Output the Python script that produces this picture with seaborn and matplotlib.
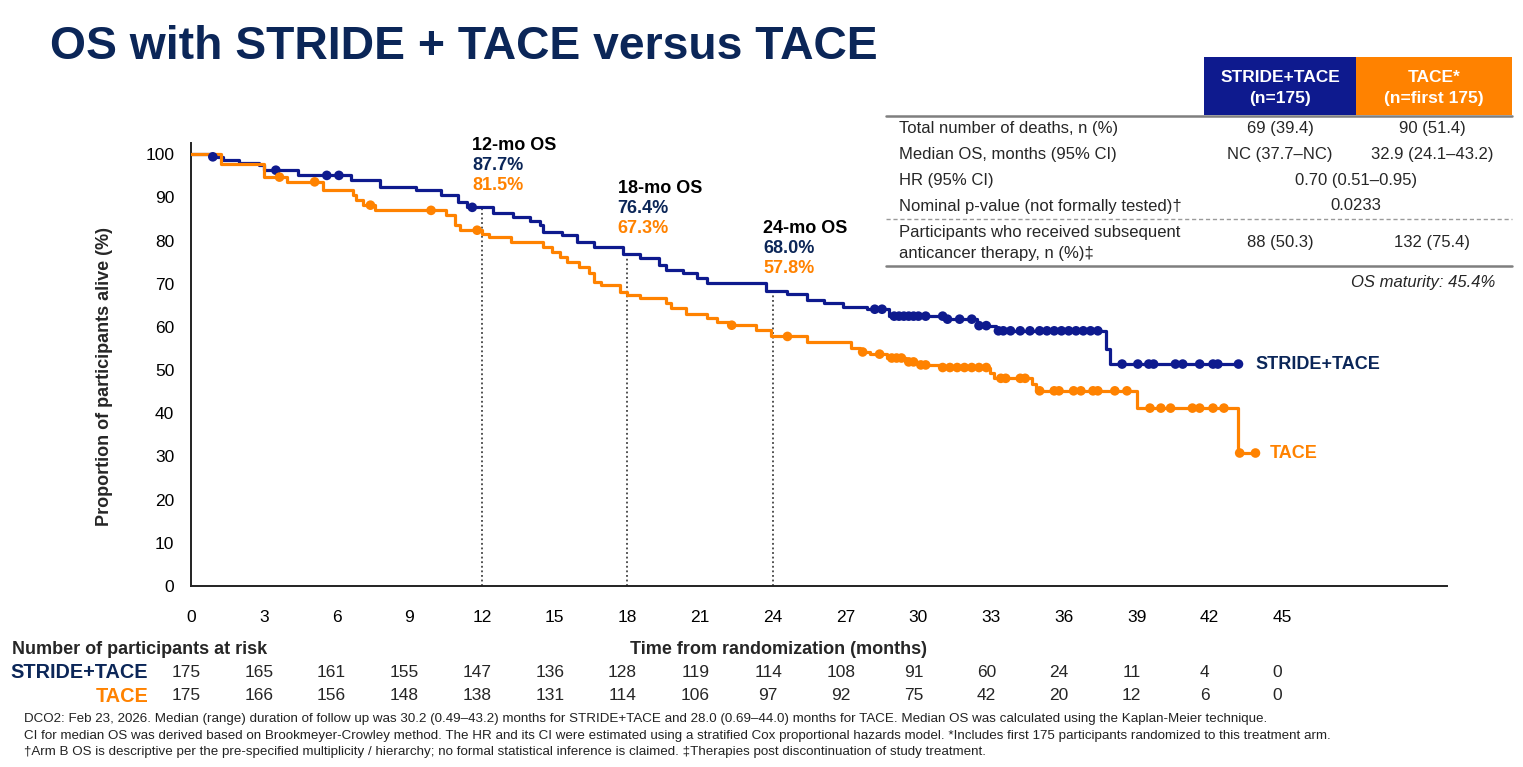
import numpy as np
import pandas as pd
import matplotlib
matplotlib.use("Agg")
import matplotlib.pyplot as plt
from matplotlib.patches import Rectangle
from matplotlib.lines import Line2D
import seaborn as sns

# ---------------- data ----------------
arms = ["STRIDE+TACE", "TACE"]

stride_times = [0, 0.85, 1.3, 2.0, 2.8, 3.0, 4.4, 6.6, 7.8, 9.3, 10.3, 11.0, 11.4, 12.45, 13.3,
                14.0, 14.4, 14.5, 15.3, 15.9, 16.6, 17.8, 18.5, 19.3, 19.6, 20.3, 20.85, 21.3,
                23.7, 24.6, 25.4, 26.1, 26.9, 27.9, 28.8, 31.1, 32.4, 33.2, 37.75, 37.9, 43.2]
stride_surv = [100, 99.4, 98.6, 98.0, 97.5, 96.3, 95.1, 94.0, 92.4, 91.7, 90.5, 89.0, 87.7, 86.4, 85.5,
               84.5, 83.6, 82.0, 81.2, 79.7, 78.5, 76.9, 75.9, 74.3, 73.1, 72.4, 71.3, 70.1,
               68.3, 67.6, 66.3, 65.5, 64.7, 64.1, 62.5, 61.8, 60.3, 59.1, 55.0, 51.4, 51.4]
stride_censor = [0.9, 3.5, 5.6, 6.1, 11.6, 28.2, 28.5, 29.0, 29.2, 29.4, 29.6, 29.8, 30.0, 30.3,
                 31.0, 31.2, 31.7, 32.2, 32.5, 32.8, 33.3, 33.5, 33.8, 34.2, 34.6, 35.0, 35.3, 35.6,
                 35.9, 36.2, 36.5, 36.8, 37.1, 37.4, 38.4, 39.05, 39.5, 39.7, 40.6, 40.9, 41.6,
                 42.15, 42.35, 43.2]

tace_times = [0, 1.25, 3.0, 3.95, 5.45, 6.7, 6.8, 7.1, 7.6, 10.5, 10.9, 11.1, 12.0, 12.3, 13.2,
              14.5, 14.9, 15.2, 15.5, 16.0, 16.4, 16.6, 16.9, 17.7, 18.0, 18.5, 19.6, 19.8, 20.4,
              21.3, 21.7, 22.2, 23.3, 23.9, 25.4, 27.2, 27.6, 28.0, 28.7, 29.5, 30.0, 30.9,
              32.95, 33.1, 34.7, 34.85, 39.0, 43.2, 44.0]
tace_surv = [100, 97.8, 94.7, 93.6, 91.7, 90.5, 89.4, 88.2, 87.0, 85.9, 83.6, 82.4, 81.5, 80.9, 79.7,
             78.5, 77.4, 76.2, 75.1, 73.9, 72.4, 70.5, 69.7, 68.1, 67.3, 66.6, 65.6, 64.4, 63.1,
             62.0, 61.2, 60.4, 59.3, 57.8, 56.4, 55.2, 54.2, 53.7, 52.8, 51.9, 51.2, 50.6,
             49.4, 48.1, 46.7, 45.2, 41.2, 30.8, 30.8]
tace_censor = [3.65, 5.1, 7.4, 9.9, 11.8, 22.3, 24.6, 27.7, 28.4, 28.9, 29.1, 29.3, 29.6, 29.8,
               30.1, 30.3, 31.0, 31.3, 31.6, 31.9, 32.2, 32.5, 32.8, 33.4, 33.6, 34.2, 34.4, 35.0,
               35.6, 35.8, 36.4, 36.7, 37.2, 37.4, 38.1, 38.6, 39.55, 40.0, 40.4, 41.3, 41.6,
               42.15, 42.6, 43.25, 43.9]

risk_times = [0, 3, 6, 9, 12, 15, 18, 21, 24, 27, 30, 33, 36, 39, 42, 45]
risk_stride = [175, 165, 161, 155, 147, 136, 128, 119, 114, 108, 91, 60, 24, 11, 4, 0]
risk_tace = [175, 166, 156, 148, 138, 131, 114, 106, 97, 92, 75, 42, 20, 12, 6, 0]

landmarks = [12, 18, 24]
landmark_titles = ["12-mo OS", "18-mo OS", "24-mo OS"]
landmark_stride = ["87.7%", "76.4%", "68.0%"]
landmark_tace = ["81.5%", "67.3%", "57.8%"]

table_rows = ["Total number of deaths, n (%)", "Median OS, months (95% CI)", "HR (95% CI)",
              "Nominal p-value (not formally tested)\u2020"]
table_stride = ["69 (39.4)", "NC (37.7\u2013NC)"]
table_tace = ["90 (51.4)", "32.9 (24.1\u201343.2)"]
table_shared = ["0.70 (0.51\u20130.95)", "0.0233"]
subseq_label = "Participants who received subsequent\nanticancer therapy, n (%)\u2021"
subseq_stride = "88 (50.3)"
subseq_tace = "132 (75.4)"
maturity = "OS maturity: 45.4%"

footnotes = [
    "DCO2: Feb 23, 2026. Median (range) duration of follow up was 30.2 (0.49\u201343.2) months for STRIDE+TACE and 28.0 (0.69\u201344.0) months for TACE. Median OS was calculated using the Kaplan-Meier technique.",
    "CI for median OS was derived based on Brookmeyer-Crowley method. The HR and its CI were estimated using a stratified Cox proportional hazards model. *Includes first 175 participants randomized to this treatment arm.",
    "\u2020Arm B OS is descriptive per the pre-specified multiplicity / hierarchy; no formal statistical inference is claimed. \u2021Therapies post discontinuation of study treatment.",
]

# ---------------- style ----------------
BLUE = "#0E1A8E"
ORANGE = "#FF8200"
NAVY = "#0B2658"

sns.set_style("white")
plt.rcParams["font.family"] = ["Liberation Sans", "DejaVu Sans"]

W, H = 1523, 767
fig = plt.figure(figsize=(W / 100, H / 100), dpi=100)


def fx(px):
    return px / W


def fy(py):
    return 1 - py / H


ax = fig.add_axes([fx(191), fy(586), fx(1447) - fx(191), fy(143) - fy(586)])

curves = pd.concat([
    pd.DataFrame({"time": stride_times, "surv": stride_surv, "arm": arms[0]}),
    pd.DataFrame({"time": tace_times, "surv": tace_surv, "arm": arms[1]}),
], ignore_index=True)


def surv_at(times, survs, t):
    idx = np.searchsorted(np.asarray(times), np.asarray(t), side="right") - 1
    return np.asarray(survs)[idx]


cens = pd.concat([
    pd.DataFrame({"time": stride_censor, "surv": surv_at(stride_times, stride_surv, stride_censor), "arm": arms[0]}),
    pd.DataFrame({"time": tace_censor, "surv": surv_at(tace_times, tace_surv, tace_censor), "arm": arms[1]}),
], ignore_index=True)

palette = {arms[0]: BLUE, arms[1]: ORANGE}

sns.lineplot(data=curves, x="time", y="surv", hue="arm", palette=palette, estimator=None,
             sort=False, drawstyle="steps-post", linewidth=2.3, legend=False, ax=ax, zorder=3)
sns.scatterplot(data=cens, x="time", y="surv", hue="arm", palette=palette, s=48,
                edgecolor="none", legend=False, ax=ax, zorder=4)

# landmark dotted lines
lm_vals = surv_at(stride_times, stride_surv, landmarks)
ax.vlines(landmarks, 0, lm_vals, colors="#222222", linestyles=(0, (1.2, 1.8)), linewidth=1.1, zorder=2)

lm_y = [(586 - 145) / 4.32, (586 - 188) / 4.32, (586 - 228) / 4.32]
step = 20 / 4.32
for t, yy, ttl, vs, vt in zip(landmarks, lm_y, landmark_titles, landmark_stride, landmark_tace):
    ax.text(t - 0.4, yy, ttl, fontsize=13, weight="bold", color="black", va="center", ha="left", clip_on=False)
    ax.text(t - 0.4, yy - step, vs, fontsize=13, weight="bold", color=NAVY, va="center", ha="left", clip_on=False)
    ax.text(t - 0.4, yy - 2 * step, vt, fontsize=13, weight="bold", color=ORANGE, va="center", ha="left", clip_on=False)

# end labels
ax.text(stride_times[-1] + 0.7, stride_surv[-1], arms[0], fontsize=13, weight="bold", color=NAVY, va="center", ha="left")
ax.text(tace_times[-1] + 0.5, tace_surv[-1], arms[1], fontsize=13, weight="bold", color=ORANGE, va="center", ha="left")

ax.set_xlim(0, 51.8)
ax.set_ylim(0, 102.6)
ax.set_xticks(risk_times)
ax.set_yticks(range(0, 101, 10))
ax.tick_params(axis="both", direction="out", length=7, width=1.4, color="#222222", labelsize=12.5,
               labelcolor="black")
ax.tick_params(axis="x", pad=10)
ax.tick_params(axis="y", pad=5)
for s in ["top", "right"]:
    ax.spines[s].set_visible(False)
for s in ["left", "bottom"]:
    ax.spines[s].set_linewidth(1.4)
    ax.spines[s].set_color("#222222")

ax.set_xlabel("Time from randomization (months)", fontsize=13, weight="bold")
ax.xaxis.set_label_coords((778 - 191) / (1447 - 191), -(641 - 586) / (586 - 143))
ax.set_ylabel("Proportion of participants alive (%)", fontsize=13, weight="bold")
ax.yaxis.set_label_coords(-(191 - 113) / (1447 - 191), (586 - 376) / (586 - 143))

# title
fig.text(fx(50), fy(47), "OS with STRIDE + TACE versus TACE", fontsize=33.3, weight="bold", color=NAVY,
         va="center", ha="left")

# at-risk table
fig.text(fx(12), fy(650), "Number of participants at risk", fontsize=13, weight="bold", va="center", ha="left")
fig.text(fx(148), fy(673), arms[0], fontsize=14.3, weight="bold", color=NAVY, va="center", ha="right")
fig.text(fx(148), fy(696), arms[1], fontsize=14.3, weight="bold", color=ORANGE, va="center", ha="right")
for t, a, b in zip(risk_times, risk_stride, risk_tace):
    ax.text(t - 0.2, -(673 - 586) / 4.32, str(a), fontsize=12.5, va="center", ha="center", clip_on=False)
    ax.text(t - 0.2, -(696 - 586) / 4.32, str(b), fontsize=12.5, va="center", ha="center", clip_on=False)

# summary table
fig.add_artist(Rectangle((fx(1204), fy(115)), fx(1356) - fx(1204), fy(57) - fy(115),
                         transform=fig.transFigure, facecolor=BLUE, edgecolor="none"))
fig.add_artist(Rectangle((fx(1356), fy(115)), fx(1512) - fx(1356), fy(57) - fy(115),
                         transform=fig.transFigure, facecolor=ORANGE, edgecolor="none"))
fig.text(fx(1280), fy(88), "STRIDE+TACE\n(n=175)", fontsize=12.5, weight="bold", color="white",
         va="center", ha="center", linespacing=1.5)
fig.text(fx(1434), fy(88), "TACE*\n(n=first 175)", fontsize=12.5, weight="bold", color="white",
         va="center", ha="center", linespacing=1.5)

fig.add_artist(Line2D([fx(886), fx(1512)], [fy(116), fy(116)], transform=fig.transFigure, color="#7F7F7F", lw=1.8))
fig.add_artist(Line2D([fx(886), fx(1512)], [fy(219), fy(219)], transform=fig.transFigure, color="#9A9A9A", lw=1.0,
                      linestyle=(0, (3, 2))))
fig.add_artist(Line2D([fx(886), fx(1512)], [fy(266), fy(266)], transform=fig.transFigure, color="#7F7F7F", lw=1.8))

TFS = 12
row_y = [129, 155, 181, 206]
for i, (lbl, yy) in enumerate(zip(table_rows, row_y)):
    fig.text(fx(899), fy(yy), lbl, fontsize=TFS, va="center", ha="left")
    if i < 2:
        fig.text(fx(1280), fy(yy), table_stride[i], fontsize=TFS, va="center", ha="center")
        fig.text(fx(1432), fy(yy), table_tace[i], fontsize=TFS, va="center", ha="center")
    else:
        fig.text(fx(1356), fy(yy), table_shared[i - 2], fontsize=TFS, va="center", ha="center")
fig.text(fx(899), fy(243), subseq_label, fontsize=TFS, va="center", ha="left", linespacing=1.55)
fig.text(fx(1280), fy(242), subseq_stride, fontsize=TFS, va="center", ha="center")
fig.text(fx(1432), fy(242), subseq_tace, fontsize=TFS, va="center", ha="center")
fig.text(fx(1495), fy(283), maturity, fontsize=TFS, style="italic", va="center", ha="right")

# footnotes
for yy, line in zip([719, 736, 752], footnotes):
    fig.text(fx(24), fy(yy), line, fontsize=9.6, va="center", ha="left", color="#222222")

fig.savefig("out.png", dpi=100)
